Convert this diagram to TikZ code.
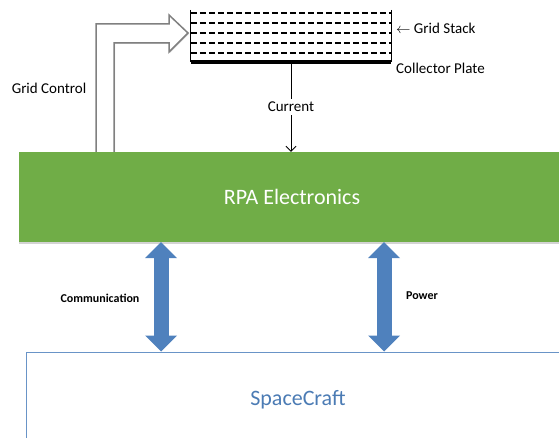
\documentclass[tikz,border=0pt]{standalone}
\usepackage{fontspec}
\setmainfont{Carlito}
\usepackage{tikz}
\usetikzlibrary{arrows.meta,shadows}
\definecolor{rpagreen}{RGB}{112,173,71}
\definecolor{craftblue}{RGB}{79,129,189}

\begin{document}
\begin{tikzpicture}[x=1pt, y=-1pt, font=\fontsize{15}{18}\selectfont,
	lbl/.style={inner sep=0pt},
	rpabox/.style={fill=rpagreen, text=white, font=\fontsize{22}{26}\selectfont, inner sep=0pt, minimum width=546pt, minimum height=90pt, drop shadow={shadow xshift=0pt, shadow yshift=-2pt, opacity=0.35}},
	craftbox/.style={draw=craftblue!85, line width=1pt, text=craftblue!95!black, font=\fontsize{22}{26}\selectfont, inner sep=0pt, minimum width=544pt, minimum height=96pt},
	ctrlarrow/.style={fill=white, draw=gray, line width=1.5pt, line join=miter, drop shadow={shadow xshift=1pt, shadow yshift=-1pt, opacity=0.3}},
	griddash/.style={line width=2.6pt, dash pattern=on 6pt off 3pt},
	bus/.style={craftblue, line width=15pt, {Triangle[width=32pt,length=16pt,line width=0pt]}-{Triangle[width=32pt,length=16pt,line width=0pt]}},
	buslabel/.style={font=\bfseries\fontsize{12}{14}\selectfont}]
	\useasboundingbox (0,0) rectangle (559,438);
	\clip (0,0) rectangle (559,438);
	\draw[ctrlarrow] (96,153) -- (96,24) -- (169,24) -- (169,15) -- (188,33) -- (169,52) -- (169,43) -- (114,43) -- (114,153) -- cycle;
	\node[rpabox] (rpa) at (292,197) {RPA Electronics};
	\node[craftbox] (craft) at (298,400) {SpaceCraft};
	\node[inner sep=0pt, minimum width=200pt, minimum height=52pt] (grid) at (291,36) {};
	\foreach \y in {13,23,33,43,53}
		\draw[griddash] (grid.west |- 0,\y) -- (grid.east |- 0,\y);
	\draw[line width=1.2pt] (grid.north west) -- (grid.south west);
	\draw[line width=1.2pt] (grid.north east) -- (grid.south east);
	\draw[line width=3.5pt] (grid.south west) -- (grid.south east);
	\draw[line width=0.9pt, -{Straight Barb[length=5pt]}] (grid.south) -- node[fill=white, inner sep=3pt] (cur) {Current} (rpa.north -| grid.south);
	\node[lbl, anchor=west] (stacklbl) at (396,28) {$\leftarrow$ Grid Stack};
	\node[lbl, anchor=west] (platelbl) at (396,68) {Collector Plate};
	\node[lbl] (ctrllbl) at (49,88) {Grid Control};
	\draw[bus] (rpa.south -| 161,0) -- (craft.north -| 161,0);
	\draw[bus] (rpa.south -| 384,0) -- (craft.north -| 384,0);
	\node[lbl, buslabel] (comlbl) at (100,298) {Communication};
	\node[lbl, buslabel] (pwrlbl) at (422,296) {Power};
\end{tikzpicture}
\end{document}
